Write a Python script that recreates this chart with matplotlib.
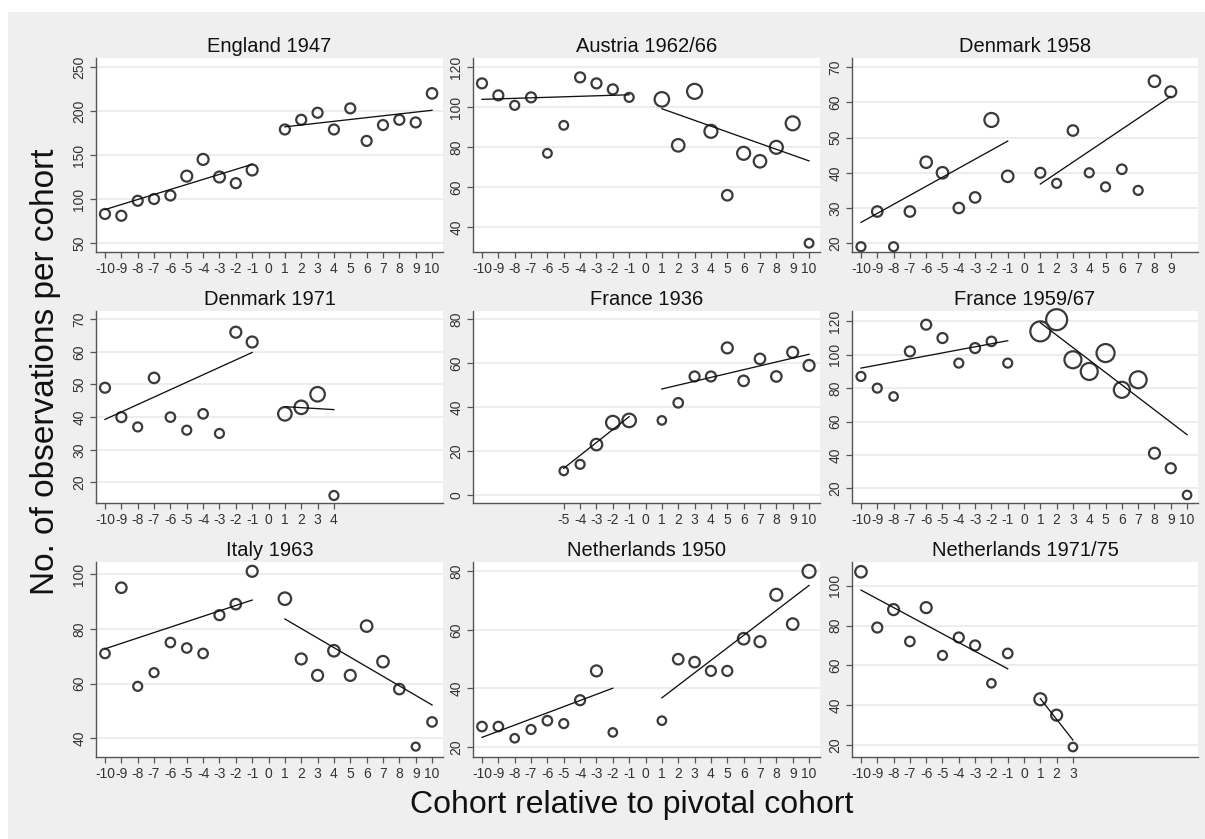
import matplotlib
matplotlib.use('Agg')
import matplotlib.pyplot as plt
from matplotlib.patches import Rectangle

plt.rcParams['font.family'] = ['Liberation Sans', 'DejaVu Sans']

W, H, DPI = 1205, 839, 100

# ---------------- data ----------------
titles = ["England 1947", "Austria 1962/66", "Denmark 1958",
          "Denmark 1971", "France 1936", "France 1959/67",
          "Italy 1963", "Netherlands 1950", "Netherlands 1971/75"]

eng_x = [-10, -9, -8, -7, -6, -5, -4, -3, -2, -1, 1, 2, 3, 4, 5, 6, 7, 8, 9, 10]
eng_y = [83, 81, 98, 100, 104, 126, 145, 125, 118, 133, 179, 190, 198, 179, 203, 166, 184, 190, 187, 220]
eng_w = [10, 10, 10, 10, 10, 11, 11, 11, 10, 11, 10, 10, 10, 10, 10, 10, 10, 10, 10, 10.5]
eng_fit = [(88, 139.4), (182, 200.8)]

aut_x = [-10, -9, -8, -7, -6, -5, -4, -3, -2, -1, 1, 2, 3, 4, 5, 6, 7, 8, 9, 10]
aut_y = [112, 106, 101, 105, 77, 91, 115, 112, 109, 105, 104, 81, 108, 88, 56, 77, 73, 80, 92, 32]
aut_w = [10, 10, 9, 10, 8.7, 8.7, 10, 10, 10, 9, 14.5, 12.5, 15, 13, 10.5, 13, 12.5, 13, 14, 8.7]
aut_fit = [(104, 106.3), (99.3, 73.2)]

dk58_x = [-10, -9, -8, -7, -6, -5, -4, -3, -2, -1, 1, 2, 3, 4, 5, 6, 7, 8, 9]
dk58_y = [19, 29, 19, 29, 43, 40, 30, 33, 55, 39, 40, 37, 52, 40, 36, 41, 35, 66, 63]
dk58_w = [9, 10.5, 9, 10.5, 11.5, 11.5, 10.5, 10.5, 14, 11.5, 10, 9, 10.5, 9, 9, 9.5, 9, 11.5, 11]
dk58_fit = [(25.9, 49.0), (36.8, 61.7)]

dk71_x = [-10, -9, -8, -7, -6, -5, -4, -3, -2, -1, 1, 2, 3, 4]
dk71_y = [49, 40, 37, 52, 40, 36, 41, 35, 66, 63, 41, 43, 47, 16]
dk71_w = [10, 10, 9, 10.5, 9.5, 9, 9.5, 9, 11, 11, 13.5, 13.5, 14.5, 9]
dk71_fit = [(39.3, 59.8), (43.2, 42.3)]

fr36_x = [-5, -4, -3, -2, -1, 1, 2, 3, 4, 5, 6, 7, 8, 9, 10]
fr36_y = [11, 14, 23, 33, 34, 34, 42, 54, 54, 67, 52, 62, 54, 65, 59]
fr36_w = [8.5, 9, 11.5, 13.5, 13.5, 8.5, 9.5, 10, 10, 11, 10.5, 10.5, 10.5, 11, 11]
fr36_fit = [(12.2, 35.7), (48.3, 64.1)]

fr59_x = [-10, -9, -8, -7, -6, -5, -4, -3, -2, -1, 1, 2, 3, 4, 5, 6, 7, 8, 9, 10]
fr59_y = [87, 80, 75, 102, 118, 110, 95, 104, 108, 95, 114, 121, 97, 90, 101, 79, 85, 41, 32, 16]
fr59_w = [9, 9, 8.5, 10, 10, 10, 9, 10, 9.5, 9, 20, 21, 17, 17, 18, 16, 17, 11, 10, 8.5]
fr59_fit = [(92.0, 108.4), (119.2, 52.1)]

ita_x = [-10, -9, -8, -7, -6, -5, -4, -3, -2, -1, 1, 2, 3, 4, 5, 6, 7, 8, 9, 10]
ita_y = [71, 95, 59, 64, 75, 73, 71, 85, 89, 101, 91, 69, 63, 72, 63, 81, 68, 58, 37, 46]
ita_w = [9.5, 10.5, 9, 9, 9.5, 9.5, 9.5, 10, 10.5, 11, 12.5, 11, 11, 11.5, 11, 11.5, 11.5, 10.5, 8, 9.5]
ita_fit = [(72.7, 90.5), (83.6, 52.2)]

nl50_x = [-10, -9, -8, -7, -6, -5, -4, -3, -2, 1, 2, 3, 4, 5, 6, 7, 8, 9, 10]
nl50_y = [27, 27, 23, 26, 29, 28, 36, 46, 25, 29, 50, 49, 46, 46, 57, 56, 72, 62, 80]
nl50_w = [9.5, 9.5, 8.5, 9, 9.5, 9, 10, 11, 8.5, 8.5, 10.5, 10.5, 10, 10, 11.5, 11, 12, 11.5, 13]
nl50_fit = [(23.3, 40.1), (36.8, 75.2)]

nl71_x = [-10, -9, -8, -7, -6, -5, -4, -3, -2, -1, 1, 2, 3]
nl71_y = [107, 79, 88, 72, 89, 65, 74, 70, 51, 66, 43, 35, 19]
nl71_w = [11.5, 10, 11, 9.5, 11, 9, 10, 10, 8.5, 9.5, 12, 11, 8.5]
nl71_fit = [(97.8, 58.3), (43.3, 22.5)]

yticks_list = [[50, 100, 150, 200, 250], [40, 60, 80, 100, 120], [20, 30, 40, 50, 60, 70],
               [20, 30, 40, 50, 60, 70], [0, 20, 40, 60, 80], [20, 40, 60, 80, 100, 120],
               [40, 60, 80, 100], [20, 40, 60, 80], [20, 40, 60, 80, 100]]
ylims = [(39.8, 260.2), (27.6, 124.7), (17.5, 72.6),
         (13.7, 72.5), (-3.6, 83.8), (11.2, 126.2),
         (33.2, 104.4), (16.6, 83.2), (14.0, 111.9)]

panels = [(eng_x, eng_y, eng_w, eng_fit), (aut_x, aut_y, aut_w, aut_fit),
          (dk58_x, dk58_y, dk58_w, dk58_fit), (dk71_x, dk71_y, dk71_w, dk71_fit),
          (fr36_x, fr36_y, fr36_w, fr36_fit), (fr59_x, fr59_y, fr59_w, fr59_fit),
          (ita_x, ita_y, ita_w, ita_fit), (nl50_x, nl50_y, nl50_w, nl50_fit),
          (nl71_x, nl71_y, nl71_w, nl71_fit)]

# ---------------- layout ----------------
fig = plt.figure(figsize=(W / DPI, H / DPI), dpi=DPI, facecolor='white')
fig.patches.append(Rectangle((8 / W, 0), 1 - 8 / W, 1 - 12 / H, transform=fig.transFigure,
                             facecolor='#efefef', edgecolor='none', zorder=-10))

cols = [(96, 443), (473, 820), (852, 1198)]
rows = [(58, 252), (311, 503), (562, 757)]

edge_col = '#3a3a3a'
for i, (px, py, pw, fit) in enumerate(panels):
    r, c = divmod(i, 3)
    x0, x1 = cols[c]
    y0, y1 = rows[r]
    ax = fig.add_axes([x0 / W, 1 - y1 / H, (x1 - x0) / W, (y1 - y0) / H])
    ax.set_facecolor('white')
    ax.set_xlim(-10.55, 10.67)
    ax.set_ylim(*ylims[i])

    sizes = [(d * 72 / DPI) ** 2 for d in pw]
    ax.scatter(px, py, s=sizes, facecolors='none', edgecolors=edge_col,
               linewidths=1.6, zorder=3, clip_on=False)

    left = [(xx, yy) for xx, yy in zip(px, py) if xx < 0]
    right = [(xx, yy) for xx, yy in zip(px, py) if xx > 0]
    lx = [left[0][0], left[-1][0]]
    rx = [right[0][0], right[-1][0]]
    ax.plot(lx, list(fit[0]), color='#111111', lw=0.95, zorder=4)
    ax.plot(rx, list(fit[1]), color='#111111', lw=0.95, zorder=4)

    xt = list(range(min(px), max(px) + 1))
    ax.set_xticks(xt)
    ax.set_xticklabels([str(v) for v in xt])
    ax.set_yticks(yticks_list[i])
    ax.set_yticklabels([str(v) for v in yticks_list[i]], rotation=90, va='center')

    ax.yaxis.grid(True, color='#e8e8e8', lw=1.1)
    ax.set_axisbelow(True)
    for s in ['top', 'right']:
        ax.spines[s].set_visible(False)
    for s in ['left', 'bottom']:
        ax.spines[s].set_color('#555555')
        ax.spines[s].set_linewidth(1.0)
    ax.tick_params(direction='out', length=4, width=0.9, color='#555555',
                   labelsize=10, labelcolor='#333333', pad=3)
    ax.set_title(titles[i], fontsize=14.5, color='#111111', pad=4)

fig.text(46 / W, 1 - 372 / H, 'No. of observations per cohort', rotation=90,
         ha='center', va='center', fontsize=24, color='#111111')
fig.text(632 / W, 1 - 805 / H, 'Cohort relative to pivotal cohort',
         ha='center', va='center', fontsize=23, color='#111111')

fig.savefig('out.png', dpi=DPI, facecolor=fig.get_facecolor())
